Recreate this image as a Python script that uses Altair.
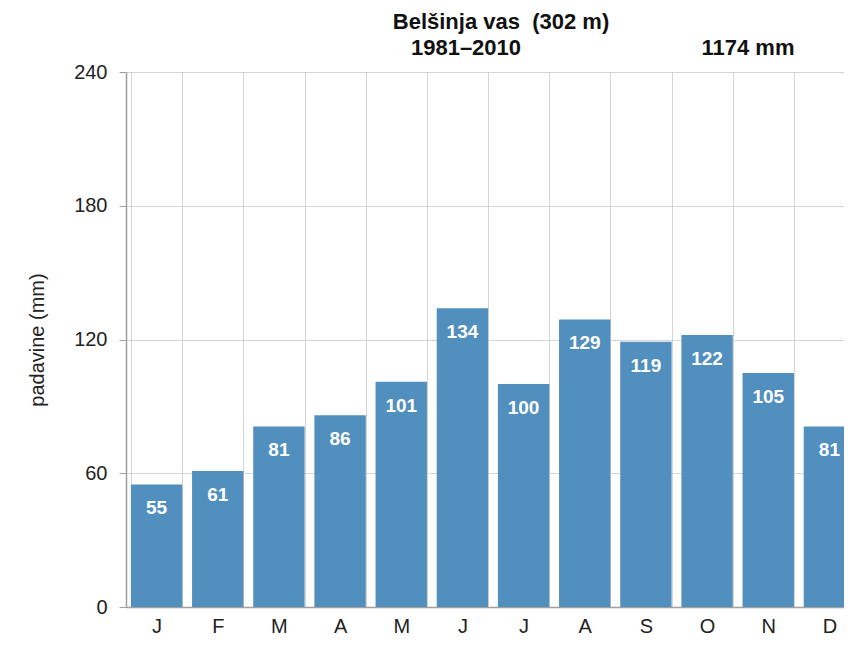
import altair as alt
import pandas as pd

months = ["J", "F", "M", "A", "M ", "J ", "J  ", "A ", "S", "O", "N", "D"]
month_labels = ["J", "F", "M", "A", "M", "J", "J", "A", "S", "O", "N", "D"]
precip = [55, 61, 81, 86, 101, 134, 100, 129, 119, 122, 105, 81]
y_ticks = [0, 60, 120, 180, 240]
title_line1 = "Belšinja vas \u00a0(302 m)"
title_line2 = "1981–2010"
total_text = "1174 mm"

df = pd.DataFrame({"m": months, "v": precip, "lab": month_labels})

FONT = "Liberation Sans"
BAR = "#508fbe"
TXT = "#222222"

label_expr = "{" + ",".join(f"'{k}':'{l}'" for k, l in zip(months, month_labels)) + "}[datum.value]"

x = alt.X(
    "m:N",
    sort=months,
    scale=alt.Scale(paddingInner=0.16, paddingOuter=0.08, range=[0, 734]),
    axis=alt.Axis(
        title=None,
        labelExpr=label_expr,
        labelAngle=0,
        ticks=False,
        grid=True,
        tickBand="extent",
        gridColor="#d4d4d4",
        gridWidth=1,
        domainColor="#a0a0a0",
        domainWidth=1.5,
        labelFont=FONT,
        labelFontSize=20,
        labelColor=TXT,
        labelPadding=9,
    ),
)
y = alt.Y(
    "v:Q",
    scale=alt.Scale(domain=[0, 240], nice=False),
    axis=alt.Axis(
        title="padavine (mm)",
        values=y_ticks,
        grid=True,
        gridColor="#d4d4d4",
        tickColor="#a0a0a0",
        tickSize=7,
        domainColor="#a0a0a0",
        domainWidth=1.5,
        labelFont=FONT,
        labelFontSize=20,
        labelColor=TXT,
        labelPadding=12,
        titleFont=FONT,
        titleFontSize=20,
        titleFontWeight="normal",
        titleColor=TXT,
        titlePadding=26,
    ),
)

base = alt.Chart(df)
bars = base.mark_bar(color=BAR).encode(x=x, y=y)
texts = base.mark_text(
    color="white", font=FONT, fontSize=19, fontWeight="bold", baseline="middle", dy=24
).encode(x=alt.X("m:N", sort=months), y="v:Q", text="v:Q")

def title_text(txt, xpos, ypos):
    return alt.Chart(pd.DataFrame({"t": [txt]})).mark_text(
        font=FONT, fontSize=22, fontWeight="bold", color="#111111", baseline="middle"
    ).encode(text="t:N", x=alt.value(xpos), y=alt.value(ypos))

t1 = title_text(title_line1, 375, -50)
t2 = title_text(title_line2, 340, -24)
t3 = title_text(total_text, 622, -24)

chart = (
    alt.layer(bars, texts, t1, t2, t3)
    .properties(
        width=718,
        height=535,
        autosize=alt.AutoSizeParams(type="none"),
        padding={"left": 118, "top": 64, "right": 0, "bottom": 30},
    )
    .configure_view(stroke=None)
)

chart.save("out.html", embed_options={"renderer": "svg", "actions": False})
